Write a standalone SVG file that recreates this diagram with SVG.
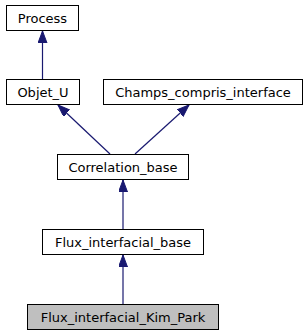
<svg xmlns="http://www.w3.org/2000/svg" width="307" height="336" viewBox="0 0 307 336">
<style>
.box{fill:#ffffff;stroke:#000000;stroke-width:1}
.sel{fill:#bfbfbf;stroke:#000000;stroke-width:1}
.lbl{font-family:"DejaVu Sans",sans-serif;font-size:13px;fill:#000000;text-anchor:middle}
.edge{fill:none;stroke:#191970;stroke-width:1.2}
</style>
<defs>
<marker id="ah" markerUnits="userSpaceOnUse" markerWidth="14" markerHeight="10" refX="12" refY="4.5" orient="auto">
<path d="M0,0 L12,4.5 L0,9 z" fill="#191970" stroke="#191970" stroke-width="1"/>
</marker>
</defs>
<rect width="307" height="336" fill="#ffffff"/>
<g id="connectors">
<path class="edge" d="M42.5,79 L42.5,31" marker-end="url(#ah)"/>
<path class="edge" d="M110,154 L58,105" marker-end="url(#ah)"/>
<path class="edge" d="M135,154 L189,105" marker-end="url(#ah)"/>
<path class="edge" d="M123,229 L123,180" marker-end="url(#ah)"/>
<path class="edge" d="M123,304 L123,255" marker-end="url(#ah)"/>
</g>
<g id="Process">
<rect class="box" x="6.5" y="5.5" width="72" height="25"/>
<text class="lbl" x="42.5" y="22.5">Process</text>
</g>
<g id="Objet_U">
<rect class="box" x="6.5" y="79.5" width="73" height="25"/>
<text class="lbl" x="43" y="96.5">Objet_U</text>
</g>
<g id="Champs_compris_interface">
<rect class="box" x="103.5" y="79.5" width="199" height="25"/>
<text class="lbl" x="203" y="96.5">Champs_compris_interface</text>
</g>
<g id="Correlation_base">
<rect class="box" x="57.5" y="154.5" width="131" height="25"/>
<text class="lbl" x="123" y="171.5">Correlation_base</text>
</g>
<g id="Flux_interfacial_base">
<rect class="box" x="42.5" y="229.5" width="161" height="25"/>
<text class="lbl" x="123" y="246.5">Flux_interfacial_base</text>
</g>
<g id="Flux_interfacial_Kim_Park">
<rect class="sel" x="27.5" y="304.5" width="191" height="25"/>
<text class="lbl" x="123" y="321.5">Flux_interfacial_Kim_Park</text>
</g>
</svg>
